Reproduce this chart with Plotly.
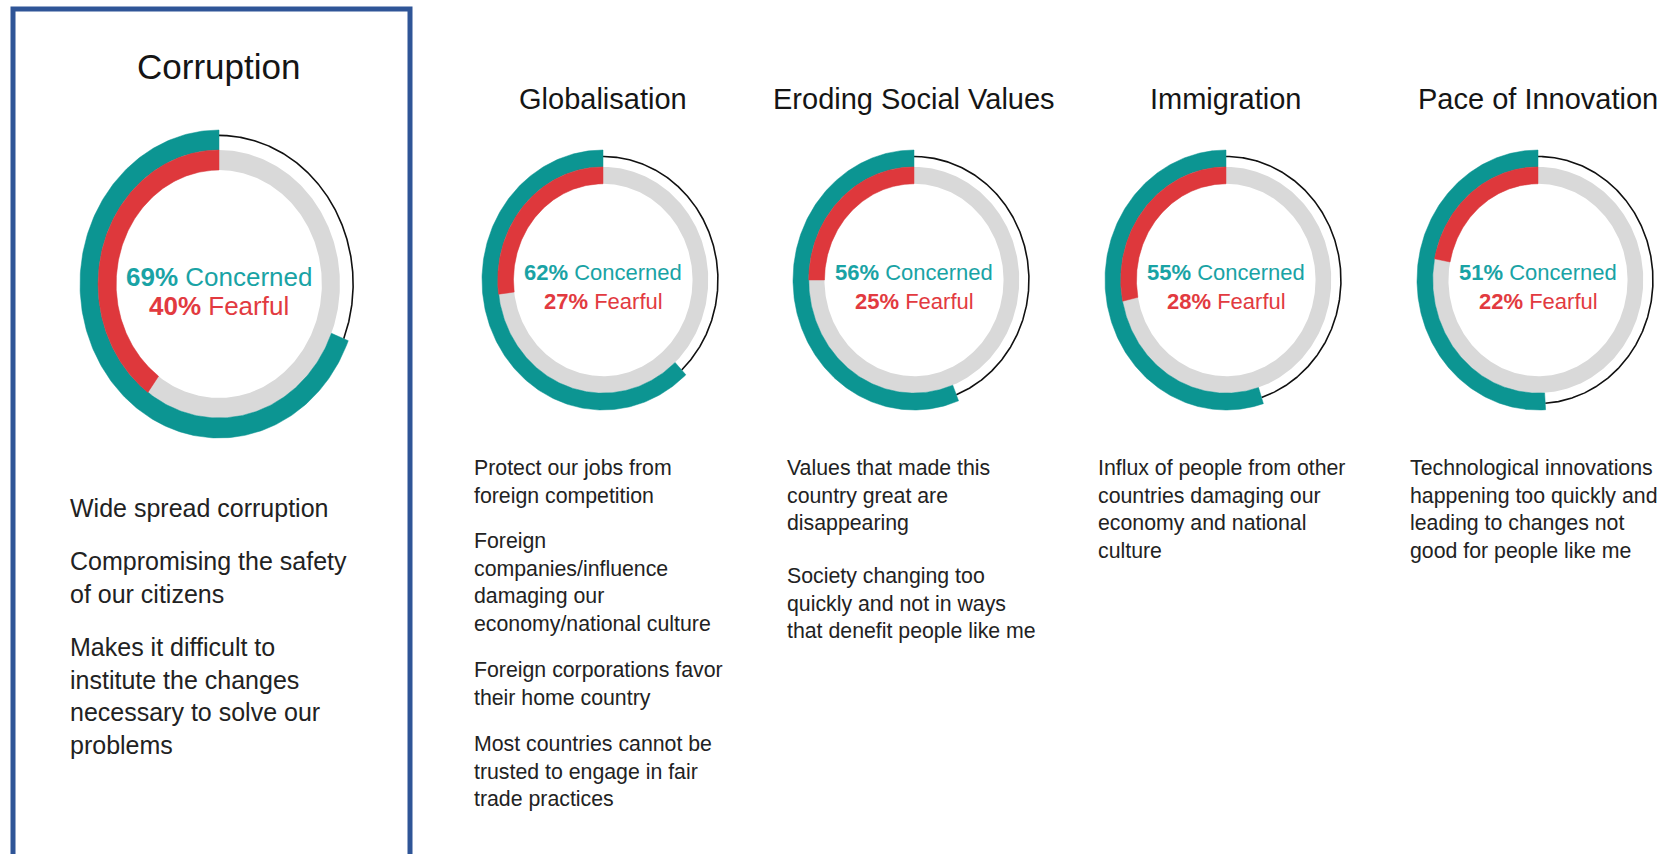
import numpy as np
import plotly.graph_objects as go

# ---------------- data ----------------
topics = ["Corruption", "Globalisation", "Eroding Social Values", "Immigration", "Pace of Innovation"]
concerned = [69, 62, 56, 55, 51]
fearful = [40, 27, 25, 28, 22]
descriptions = [
    [["Wide spread corruption"],
     ["Compromising the safety", "of our citizens"],
     ["Makes it difficult to", "institute the changes", "necessary to solve our", "problems"]],
    [["Protect our jobs from", "foreign competition"],
     ["Foreign", "companies/influence", "damaging our", "economy/national culture"],
     ["Foreign corporations favor", "their home country"],
     ["Most countries cannot be", "trusted to engage in fair", "trade practices"]],
    [["Values that made this", "country great are", "disappearing"],
     ["Society changing too", "quickly and not in ways", "that denefit people like me"]],
    [["Influx of people from other", "countries damaging our", "economy and national", "culture"]],
    [["Technological innovations", "happening too quickly and", "leading to changes not", "good for people like me"]],
]

# ---------------- layout / style ----------------
W, H = 1665, 854
cx = [219, 603, 914, 1226, 1538]
cy = [284, 280, 280, 280, 280]
rx = [139, 121, 121, 121, 121]
ry = [154, 130, 130, 130, 130]
line_r = [0.965, 0.95, 0.95, 0.95, 0.95]
title_y = [67, 99, 99, 99, 99]
title_fs = [35, 29, 29, 29, 29]
center_fs = [26, 22, 22, 22, 22]
desc_x = [68, 472, 785, 1096, 1408]
desc_y0 = [508, 468, 468, 468, 468]
desc_fs = [25, 21.3, 21.3, 21.3, 21.3]
para_gap = [21, 18, 25, 21, 21]

TEAL = "#0c9592"
RED = "#de383c"
GRAY = "#d9d9d9"
TEAL_TXT = "#19a3a5"
RED_TXT = "#e23a40"
FONT = "Liberation Sans, Arial, Helvetica, sans-serif"

R_TEAL = (0.87, 1.0)
R_GRAY = (0.74, 0.87)
PAD = 1.03


def X(px):
    return px / W


def Y(py):
    return 1 - py / H


def band(theta0, theta1, r_in, r_out, n=240):
    """closed polygon of an annular sector; theta measured counter-clockwise from 12 o'clock"""
    t = np.linspace(theta0, theta1, n)
    xo, yo = -r_out * np.sin(t), r_out * np.cos(t)
    xi, yi = -r_in * np.sin(t[::-1]), r_in * np.cos(t[::-1])
    xs = np.concatenate([xo, xi, xo[:1]])
    ys = np.concatenate([yo, yi, yo[:1]])
    return xs, ys


fig = go.Figure()
layout_axes = {}
annotations = []

for i, topic in enumerate(topics):
    sfx = "" if i == 0 else str(i + 1)
    xa, ya = "x" + sfx, "y" + sfx
    layout_axes["xaxis" + sfx] = dict(
        domain=[max(0, X(cx[i] - rx[i] * PAD)), min(1, X(cx[i] + rx[i] * PAD))],
        range=[-PAD, PAD], visible=False, fixedrange=True, anchor=ya)
    layout_axes["yaxis" + sfx] = dict(
        domain=[max(0, Y(cy[i] + ry[i] * PAD)), min(1, Y(cy[i] - ry[i] * PAD))],
        range=[-PAD, PAD], visible=False, fixedrange=True, anchor=xa)

    a_c = 2 * np.pi * concerned[i] / 100
    a_f = 2 * np.pi * fearful[i] / 100

    # gray track
    gx, gy = band(0, 2 * np.pi, R_GRAY[0], R_GRAY[1], 400)
    fig.add_trace(go.Scatter(x=gx, y=gy, xaxis=xa, yaxis=ya, mode="lines", fill="toself",
                             fillcolor=GRAY, line=dict(width=0, color=GRAY), hoverinfo="skip"))
    # thin black line for the remainder of the outer ring
    t = np.linspace(a_c, 2 * np.pi, 300)
    fig.add_trace(go.Scatter(x=-line_r[i] * np.sin(t), y=line_r[i] * np.cos(t), xaxis=xa, yaxis=ya,
                             mode="lines", line=dict(width=1.6, color="#111111"), hoverinfo="skip"))
    # concerned arc (teal)
    tx, ty = band(0, a_c, R_TEAL[0], R_TEAL[1])
    fig.add_trace(go.Scatter(x=tx, y=ty, xaxis=xa, yaxis=ya, mode="lines", fill="toself",
                             fillcolor=TEAL, line=dict(width=0.5, color=TEAL), hoverinfo="skip"))
    # fearful arc (red)
    fx, fy = band(0, a_f, R_GRAY[0], R_GRAY[1])
    fig.add_trace(go.Scatter(x=fx, y=fy, xaxis=xa, yaxis=ya, mode="lines", fill="toself",
                             fillcolor=RED, line=dict(width=0.5, color=RED), hoverinfo="skip"))

    # centre labels
    annotations.append(dict(x=0, y=7 / ry[i], xref=xa, yref=ya, showarrow=False,
                            text=f"<b>{concerned[i]}%</b> Concerned",
                            font=dict(family=FONT, size=center_fs[i], color=TEAL_TXT),
                            xanchor="center", yanchor="middle"))
    annotations.append(dict(x=0, y=-22 / ry[i], xref=xa, yref=ya, showarrow=False,
                            text=f"<b>{fearful[i]}%</b> Fearful",
                            font=dict(family=FONT, size=center_fs[i], color=RED_TXT),
                            xanchor="center", yanchor="middle"))

    # title
    annotations.append(dict(x=X(cx[i]), y=Y(title_y[i]), xref="paper", yref="paper", showarrow=False,
                            text=topic, font=dict(family=FONT, size=title_fs[i], color="#151515"),
                            xanchor="center", yanchor="middle"))

    # description paragraphs
    lh = 1.3 * desc_fs[i]
    y_first = desc_y0[i]
    for para in descriptions[i]:
        n = len(para)
        y_mid = y_first + (n - 1) * lh / 2
        annotations.append(dict(x=X(desc_x[i]), y=Y(y_mid), xref="paper", yref="paper",
                                showarrow=False, text="<br>".join(para), align="left",
                                font=dict(family=FONT, size=desc_fs[i], color="#222222"),
                                xanchor="left", yanchor="middle"))
        y_first += n * lh + para_gap[i]

fig.update_layout(
    width=W, height=H,
    margin=dict(l=0, r=0, t=0, b=0),
    paper_bgcolor="white", plot_bgcolor="rgba(0,0,0,0)",
    showlegend=False,
    annotations=annotations,
    shapes=[dict(type="rect", xref="paper", yref="paper",
                 x0=X(13), x1=X(410), y0=Y(870), y1=Y(9),
                 line=dict(color="#2f5597", width=5), fillcolor="rgba(0,0,0,0)")],
    **layout_axes,
)

fig.write_html("out.html", config={"displayModeBar": False},
               post_script="document.body.style.margin='0';document.body.style.overflow='hidden';")
